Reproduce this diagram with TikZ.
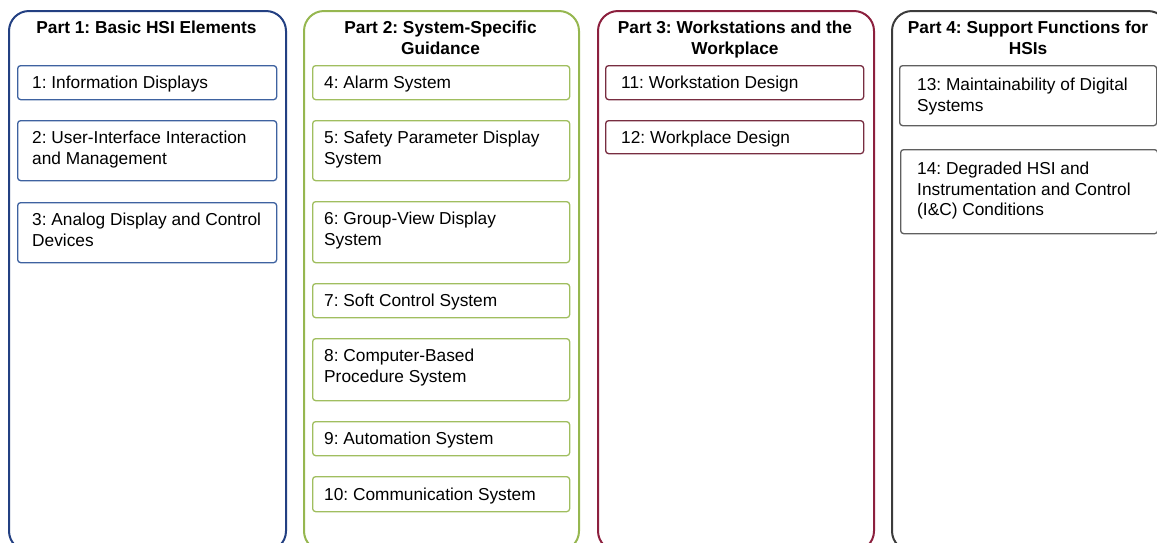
\documentclass[tikz,border=0pt]{standalone}
\usepackage{fontspec}
\setmainfont{Liberation Sans}
\frenchspacing
\definecolor{blueO}{RGB}{35,64,130}
\definecolor{blueI}{RGB}{62,98,160}
\definecolor{greenO}{RGB}{150,183,80}
\definecolor{greenI}{RGB}{160,190,95}
\definecolor{marO}{RGB}{140,32,62}
\definecolor{marI}{RGB}{120,45,65}
\definecolor{grayO}{RGB}{60,60,60}
\definecolor{grayI}{RGB}{95,95,95}
\begin{document}
\begin{tikzpicture}[x=1pt,y=-1pt,
  outer/.style={draw, line width=2pt, rounded corners=20pt, anchor=north west, inner sep=0pt},
  ttl/.style={font=\bfseries\fontsize{17.3}{21}\selectfont, align=center, anchor=north, inner sep=0pt},
  box/.style={draw, line width=1.3pt, rounded corners=3pt, fill=white, anchor=north west, inner sep=0pt},
  c1/.style={box, draw=blueI, minimum width=259pt},
  c2/.style={box, draw=greenI, minimum width=257pt},
  c3/.style={box, draw=marI, minimum width=258pt},
  c4/.style={box, draw=grayI, minimum width=257pt},
  lbl/.style={font=\fontsize{17.3}{20.7}\selectfont, align=left, anchor=north west, inner sep=0pt}]
\useasboundingbox (0,0) rectangle (1157,542);
% outer columns
\node[outer, draw=blueO, minimum width=277pt, minimum height=540pt] (p1) at (8,10) {};
\node[outer, draw=greenO, minimum width=275pt, minimum height=540pt] (p2) at (303,10) {};
\node[outer, draw=marO, minimum width=276pt, minimum height=540pt] (p3) at (597,10) {};
\node[outer, draw=grayO, minimum width=276pt, minimum height=540pt] (p4) at (891,10) {};
% titles
\node[ttl] (t1) at (146.5,20.5) {Part 1: Basic HSI Elements};
\node[ttl] (t2) at (440.5,20.5) {Part 2: System-Specific\\Guidance};
\node[ttl] (t3) at (735,20.5) {Part 3: Workstations and the\\Workplace};
\node[ttl] (t4) at (1028,20.5) {Part 4: Support Functions for\\HSIs};
% part 1
\node[c1, minimum height=34pt] (b1) at (17,65) {};
\node[c1, minimum height=60pt] (b2) at (17,120) {};
\node[c1, minimum height=60pt] (b3) at (17,202) {};
\node[lbl] (l1) at ([shift={(15,10.8)}]b1.north west) {1: Information Displays};
\node[lbl] (l2) at ([shift={(15,10.8)}]b2.north west) {2: User-Interface Interaction\\and Management};
\node[lbl] (l3) at ([shift={(15,10.8)}]b3.north west) {3: Analog Display and Control\\Devices};
% part 2
\node[c2, minimum height=34pt] (b4) at (312,65) {};
\node[c2, minimum height=60pt] (b5) at (312,120) {};
\node[c2, minimum height=61pt] (b6) at (312,201) {};
\node[c2, minimum height=34pt] (b7) at (312,283) {};
\node[c2, minimum height=62pt] (b8) at (312,338) {};
\node[c2, minimum height=34pt] (b9) at (312,421) {};
\node[c2, minimum height=35pt] (b10) at (312,476) {};
\node[lbl] (l4) at ([shift={(12,10.8)}]b4.north west) {4: Alarm System};
\node[lbl] (l5) at ([shift={(12,10.8)}]b5.north west) {5: Safety Parameter Display\\System};
\node[lbl] (l6) at ([shift={(12,10.8)}]b6.north west) {6: Group-View Display\\System};
\node[lbl] (l7) at ([shift={(12,10.8)}]b7.north west) {7: Soft Control System};
\node[lbl] (l8) at ([shift={(12,10.8)}]b8.north west) {8: Computer-Based\\Procedure System};
\node[lbl] (l9) at ([shift={(12,10.8)}]b9.north west) {9: Automation System};
\node[lbl] (l10) at ([shift={(12,11.3)}]b10.north west) {10: Communication System};
% part 3
\node[c3, minimum height=34pt] (b11) at (605,65) {};
\node[c3, minimum height=33pt] (b12) at (605,120) {};
\node[lbl] (l11) at ([shift={(16,10.8)}]b11.north west) {11: Workstation Design};
\node[lbl] (l12) at ([shift={(16,10.8)}]b12.north west) {12: Workplace Design};
% part 4
\node[c4, minimum height=60pt] (b13) at (899,65) {};
\node[c4, minimum height=84pt] (b14) at (900,149) {};
\node[lbl] (l13) at ([shift={(18,12.8)}]b13.north west) {13: Maintainability of Digital\\Systems};
\node[lbl] (l14) at ([shift={(17,12.8)}]b14.north west) {14: Degraded HSI and\\Instrumentation and Control\\(I\&C) Conditions};
\end{tikzpicture}
\end{document}
